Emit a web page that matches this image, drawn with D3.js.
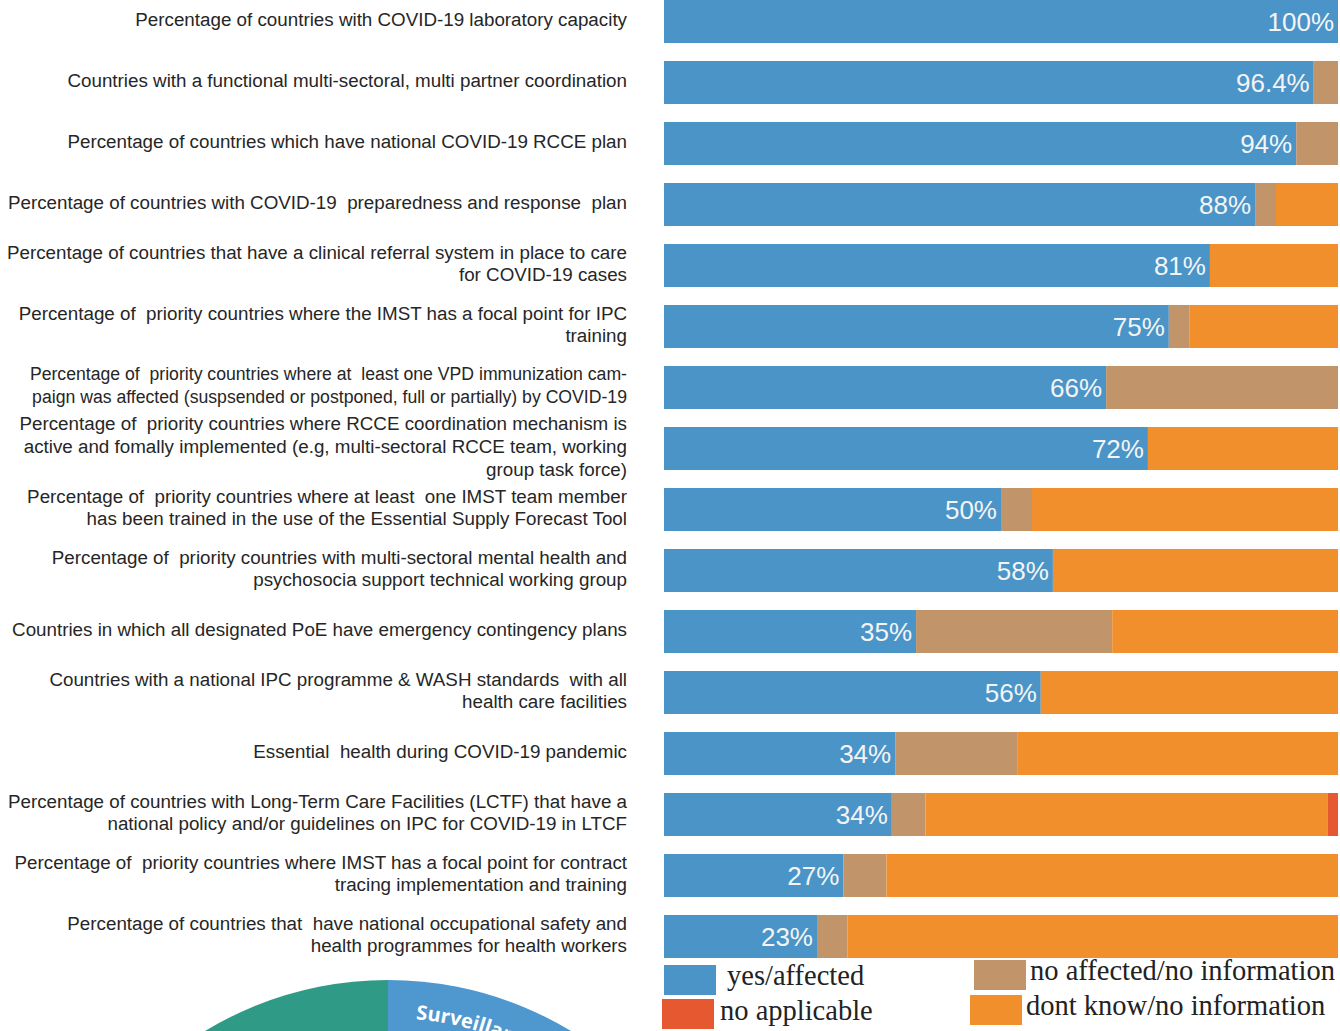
<!DOCTYPE html>
<meta charset="utf-8">
<style>
body { margin: 0; background: #fff; }
.cat text { font-family: "Liberation Sans", Arial, sans-serif; font-size: 18.8px; fill: #262626; white-space: pre; }
.val { font-family: "Liberation Sans", Arial, sans-serif; font-size: 26px; fill: #f4f4f4; }
.legend text { font-family: "Liberation Serif", "Times New Roman", serif; font-size: 28.5px; fill: #222; }
</style>
<svg width="1340" height="1031"></svg>
<script src="https://cdnjs.cloudflare.com/ajax/libs/d3/7.8.5/d3.min.js"></script>
<script>

// indicator labels, split into their printed lines
var categories = [
  ["Percentage of countries with COVID-19 laboratory capacity"],
  ["Countries with a functional multi-sectoral, multi partner coordination"],
  ["Percentage of countries which have national COVID-19 RCCE plan"],
  ["Percentage of countries with COVID-19  preparedness and response  plan"],
  ["Percentage of countries that have a clinical referral system in place to care", "for COVID-19 cases"],
  ["Percentage of  priority countries where the IMST has a focal point for IPC", "training"],
  ["Percentage of  priority countries where at  least one VPD immunization cam-", "paign was affected (suspsended or postponed, full or partially) by COVID-19"],
  ["Percentage of  priority countries where RCCE coordination mechanism is", "active and fomally implemented (e.g, multi-sectoral RCCE team, working", "group task force)"],
  ["Percentage of  priority countries where at least  one IMST team member", "has been trained in the use of the Essential Supply Forecast Tool"],
  ["Percentage of  priority countries with multi-sectoral mental health and", "psychosocia support technical working group"],
  ["Countries in which all designated PoE have emergency contingency plans"],
  ["Countries with a national IPC programme & WASH standards  with all", "health care facilities"],
  ["Essential  health during COVID-19 pandemic"],
  ["Percentage of countries with Long-Term Care Facilities (LCTF) that have a", "national policy and/or guidelines on IPC for COVID-19 in LTCF"],
  ["Percentage of  priority countries where IMST has a focal point for contract", "tracing implementation and training"],
  ["Percentage of countries that  have national occupational safety and", "health programmes for health workers"]
];

// segment shares (% of bar length)
var yesAffected    = [100, 96.4, 93.8, 87.7, 81.0, 74.9, 65.6, 71.8, 50.0, 57.7, 37.4, 55.9, 34.3, 33.8, 26.6, 22.7];
var noAffected     = [0,   3.6,  6.2,  3.1,  0,    3.1,  34.4, 0,    4.6,  0,    29.1, 0,    18.1, 5.0,  6.4,  4.5];
var dontKnow       = [0,   0,    0,    9.2,  19.0, 22.0, 0,    28.2, 45.4, 42.3, 33.5, 44.1, 47.6, 59.7, 67.0, 72.8];
var notApplicable  = [0,   0,    0,    0,    0,    0,    0,    0,    0,    0,    0,    0,    0,    1.5,  0,    0];

// printed value labels
var valueLabels = ["100%", "96.4%", "94%", "88%", "81%", "75%", "66%", "72%", "50%", "58%", "35%", "56%", "34%", "34%", "27%", "23%"];

var keys = ["yes", "noAff", "dontKnow", "na"];
var keyNames = ["yes/affected", "no affected/no information", "dont know/no information", "no applicable"];
var keyColors = ["#4a94c8", "#c1946a", "#f08f2c", "#e6582f"];

// wheel peeking in at the bottom
var wheelSlices = ["", "Surveillance"];
var wheelColors = ["#2f9a86", "#4f97cf"];

var svg = d3.select("svg");

var rows = categories.map(function(c, i) {
  return {i: i, yes: yesAffected[i], noAff: noAffected[i], dontKnow: dontKnow[i], na: notApplicable[i]};
});

var x = d3.scaleLinear().domain([0, 100]).range([664, 1338]);
var y = d3.scaleBand().domain(d3.range(categories.length)).range([0, 958]).paddingInner(0.295).paddingOuter(0);
var color = d3.scaleOrdinal().domain(keys).range(keyColors);

var stacked = d3.stack().keys(keys)(rows);

svg.append("g").selectAll("g")
  .data(stacked)
  .enter().append("g")
    .attr("fill", function(d) { return color(d.key); })
  .selectAll("rect")
  .data(function(d) { return d; })
  .enter().append("rect")
    .attr("x", function(d) { return x(d[0]); })
    .attr("y", function(d) { return y(d.data.i); })
    .attr("width", function(d) { return x(d[1]) - x(d[0]); })
    .attr("height", y.bandwidth());

// value labels at the end of the blue segment
svg.append("g").selectAll("text")
  .data(rows)
  .enter().append("text")
    .attr("class", "val")
    .attr("x", function(d) { return x(d.yes) - 4; })
    .attr("y", function(d) { return y(d.i) + y.bandwidth() / 2; })
    .attr("dy", "0.37em")
    .attr("text-anchor", "end")
    .text(function(d) { return valueLabels[d.i]; });

// category labels, right aligned left of the bars
var lineH = 22.7, maxW = 622, fitW = 597;
var cat = svg.append("g").attr("class", "cat").selectAll("text")
  .data(categories)
  .enter().append("text")
    .attr("text-anchor", "end")
    .attr("transform", function(d, i) {
      var cy = y(i) + y.bandwidth() / 2 - 2 - (d.length - 1) * lineH / 2;
      return "translate(627," + cy + ")";
    });
cat.selectAll("tspan")
  .data(function(d) { return d; })
  .enter().append("tspan")
    .attr("x", 0)
    .attr("y", function(d, j) { return j * lineH; })
    .attr("dy", "0.35em")
    .text(function(d) { return d; });

// labels that run off the left edge get a smaller font
cat.each(function() {
  var w = 0;
  d3.select(this).selectAll("tspan").each(function() { w = Math.max(w, this.getComputedTextLength()); });
  if (w > maxW) d3.select(this).style("font-size", (18.8 * fitW / w) + "px");
});

// legend, two columns
var legendPos = [[664, 965], [974, 960], [970, 995], [662, 999]];
var legendText = [[727, 985], [1030, 980], [1026, 1015], [720, 1020]];
var legend = svg.append("g").attr("class", "legend").selectAll("g")
  .data(keys)
  .enter().append("g");
legend.append("rect")
    .attr("x", function(d, i) { return legendPos[i][0]; })
    .attr("y", function(d, i) { return legendPos[i][1]; })
    .attr("width", 52)
    .attr("height", 30)
    .attr("fill", color);
legend.append("text")
    .attr("x", function(d, i) { return legendText[i][0]; })
    .attr("y", function(d, i) { return legendText[i][1]; })
    .text(function(d, i) { return keyNames[i]; });

// wheel
var R = 354, cx = 388, cy = 1334;
var pie = d3.pie().sort(null).value(1).startAngle(-Math.PI / 4).endAngle(Math.PI / 4);
var arc = d3.arc().innerRadius(0).outerRadius(R);
var wheel = svg.append("g").attr("transform", "translate(" + cx + "," + cy + ")");
wheel.selectAll("path")
  .data(pie(wheelSlices))
  .enter().append("path")
    .attr("d", arc)
    .attr("fill", function(d, i) { return wheelColors[i]; });

var rText = 316;
wheel.selectAll("path.guide")
  .data(pie(wheelSlices))
  .enter().append("path")
    .attr("class", "guide")
    .attr("id", function(d, i) { return "wl" + i; })
    .attr("fill", "none")
    .attr("d", function(d) {
      var a0 = d.startAngle + 0.088, a1 = d.endAngle;
      var p0 = [rText * Math.sin(a0), -rText * Math.cos(a0)], p1 = [rText * Math.sin(a1), -rText * Math.cos(a1)];
      return "M" + p0 + "A" + rText + "," + rText + " 0 0,1 " + p1;
    });
wheel.selectAll("text")
  .data(pie(wheelSlices))
  .enter().append("text")
    .attr("font-family", "'Open Sans', sans-serif")
    .attr("font-weight", "bold")
    .attr("font-size", 20)
    .attr("fill", "#fff")
  .append("textPath")
    .attr("href", function(d, i) { return "#wl" + i; })
    .text(function(d) { return d.data; });

</script>
